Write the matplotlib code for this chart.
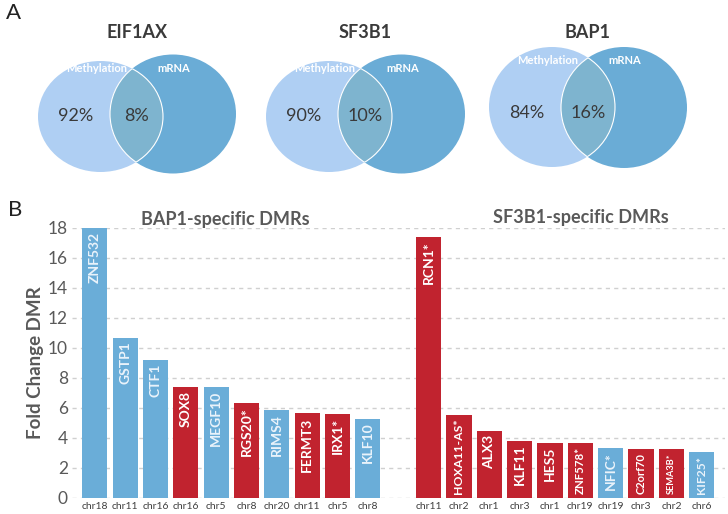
import numpy as np
import matplotlib.pyplot as plt
from matplotlib.patches import Ellipse

plt.rcParams['font.family'] = ['Lato', 'DejaVu Sans']

# --- data ---------------------------------------------------------------
venn_genes = ['EIF1AX', 'SF3B1', 'BAP1']
meth_only_pct = [92, 90, 84]
overlap_pct = [8, 10, 16]

bap1_genes = ['ZNF532', 'GSTP1', 'CTF1', 'SOX8', 'MEGF10', 'RGS20*', 'RIMS4',
              'FERMT3', 'IRX1*', 'KLF10']
bap1_chrom = ['chr18', 'chr11', 'chr16', 'chr16', 'chr5', 'chr8', 'chr20',
              'chr11', 'chr5', 'chr8']
bap1_fc = [18.0, 10.7, 9.2, 7.4, 7.4, 6.35, 5.87, 5.65, 5.58, 5.3]
bap1_dir = ['hypo', 'hypo', 'hypo', 'hyper', 'hypo', 'hyper', 'hypo',
            'hyper', 'hyper', 'hypo']

sf3b1_genes = ['RCN1*', 'HOXA11-AS*', 'ALX3', 'KLF11', 'HES5', 'ZNF578*',
               'NFIC*', 'C2orf70', 'SEMA3B*', 'KIF25*']
sf3b1_chrom = ['chr11', 'chr2', 'chr1', 'chr3', 'chr1', 'chr19', 'chr19',
               'chr3', 'chr2', 'chr6']
sf3b1_fc = [17.4, 5.56, 4.47, 3.82, 3.67, 3.67, 3.33, 3.27, 3.27, 3.05]
sf3b1_dir = ['hyper', 'hyper', 'hyper', 'hyper', 'hyper', 'hyper', 'hypo',
             'hyper', 'hyper', 'hypo']

colors = {'hypo': '#6AADD8', 'hyper': '#C1232F'}
c_left, c_right, c_mid = '#AFCFF3', '#6AACD6', '#7EB4CF'
grey_txt = '#595959'

fig = plt.figure(figsize=(7.28, 5.14), dpi=100)

# --- panel A: venn diagrams (pixel coordinates) -------------------------
axv = fig.add_axes([0, 0, 1, 1])
axv.set_xlim(0, 728)
axv.set_ylim(514, 0)
axv.axis('off')

# (left ellipse cx, cy, w, h), (right ellipse cx, cy, w, h), text y offsets
venn_layout = [
    ((100.5, 116.5, 125, 111), (173, 114, 126, 119), 68, 116),
    ((329, 116.5, 126, 111), (401.5, 114, 127, 119), 68, 116),
    ((552, 107, 126, 120), (624, 107.5, 126, 121), 61, 113),
]

for gene, m, o, (lg, rg, ylab, ypct) in zip(venn_genes, meth_only_pct,
                                           overlap_pct, venn_layout):
    left = Ellipse(lg[:2], lg[2], lg[3], fc=c_left, ec='none')
    right = Ellipse(rg[:2], rg[2], rg[3], fc=c_right, ec='none')
    axv.add_patch(left)
    axv.add_patch(right)
    mid = Ellipse(lg[:2], lg[2], lg[3], fc=c_mid, ec='none')
    axv.add_patch(mid)
    mid.set_clip_path(right)
    # white outline of the overlap
    e1 = Ellipse(lg[:2], lg[2], lg[3], fc='none', ec='white', lw=0.8)
    axv.add_patch(e1)
    e1.set_clip_path(right)
    e2 = Ellipse(rg[:2], rg[2], rg[3], fc='none', ec='white', lw=0.8)
    axv.add_patch(e2)
    e2.set_clip_path(Ellipse(lg[:2], lg[2], lg[3], transform=axv.transData))

    xl0 = lg[0] - lg[2] / 2
    xr1 = rg[0] + rg[2] / 2
    xint0 = rg[0] - rg[2] / 2
    xint1 = lg[0] + lg[2] / 2
    axv.text((xl0 + xr1) / 2, 33, gene, ha='center', va='center',
             fontsize=13, fontweight='bold', color='#3A3A3A')
    axv.text(lg[0] - 4, ylab, 'Methylation', ha='center', va='center',
             fontsize=8, fontweight='bold', color='white')
    axv.text(rg[0] + 1, ylab, 'mRNA', ha='center', va='center',
             fontsize=8, fontweight='bold', color='white')
    axv.text((xl0 + xint0) / 2 + 2, ypct, f'{m}%', ha='center', va='center',
             fontsize=13, color='#3A3A3A')
    axv.text((xint0 + xint1) / 2, ypct, f'{o}%', ha='center', va='center',
             fontsize=13, color='#3A3A3A')

axv.text(13, 13, 'A', ha='center', va='center', fontsize=16, color='#222222')
axv.text(15, 210, 'B', ha='center', va='center', fontsize=16, color='#222222')

# --- panel B: bar chart --------------------------------------------------
ax = fig.add_axes([72 / 728, 1 - 498 / 514, (724.5 - 72) / 728, 270 / 514])

genes = bap1_genes + sf3b1_genes
chroms = bap1_chrom + sf3b1_chrom
fcs = bap1_fc + sf3b1_fc
dirs = bap1_dir + sf3b1_dir
xpos = np.r_[np.arange(len(bap1_genes)),
             np.arange(len(sf3b1_genes)) + len(bap1_genes) + 1]

ax.bar(xpos, fcs, width=0.83, color=[colors[d] for d in dirs], zorder=2)
ax.set_xlim(-0.75, xpos[-1] + 0.75)
ax.set_ylim(0, 18)
ax.set_yticks(np.arange(0, 19, 2))
ax.yaxis.grid(True, color='#D0D0D0', linestyle=(0, (3, 3)), lw=1, zorder=0)
ax.set_axisbelow(True)
for s in ax.spines.values():
    s.set_visible(False)
ax.tick_params(axis='y', length=0, pad=3, labelsize=12.5, labelcolor=grey_txt)
ax.set_xticks(xpos)
ax.set_xticklabels(chroms, fontsize=7.5, color='#404040')
ax.tick_params(axis='x', length=0, pad=3)
ax.set_ylabel('Fold Change DMR', fontsize=13.5, fontweight='bold',
              color=grey_txt, labelpad=3)

# gene names inside the bars, shrunk to fit short bars
renderer = fig.canvas.get_renderer()
px_per_unit = 270 / 18
for x, v, g, d in zip(xpos, fcs, genes, dirs):
    t = ax.text(x, v - 4 / px_per_unit, g, rotation=90, ha='center', va='top',
                fontsize=10, fontweight='bold',
                family=['Liberation Sans Narrow', 'Lato'],
                color='white' if d == 'hyper' else '#EAF3FB', zorder=3)
    room = v * px_per_unit - 8
    h = t.get_window_extent(renderer).height
    if h > room:
        t.set_fontsize(10 * room / h)

ax.text(4.3, 18.6, 'BAP1-specific DMRs', ha='center', va='center',
        fontsize=13, fontweight='bold', color=grey_txt, clip_on=False)
ax.text(16.03, 18.7, 'SF3B1-specific DMRs', ha='center', va='center',
        fontsize=13, fontweight='bold', color=grey_txt, clip_on=False)

fig.savefig('out.png', dpi=100)
